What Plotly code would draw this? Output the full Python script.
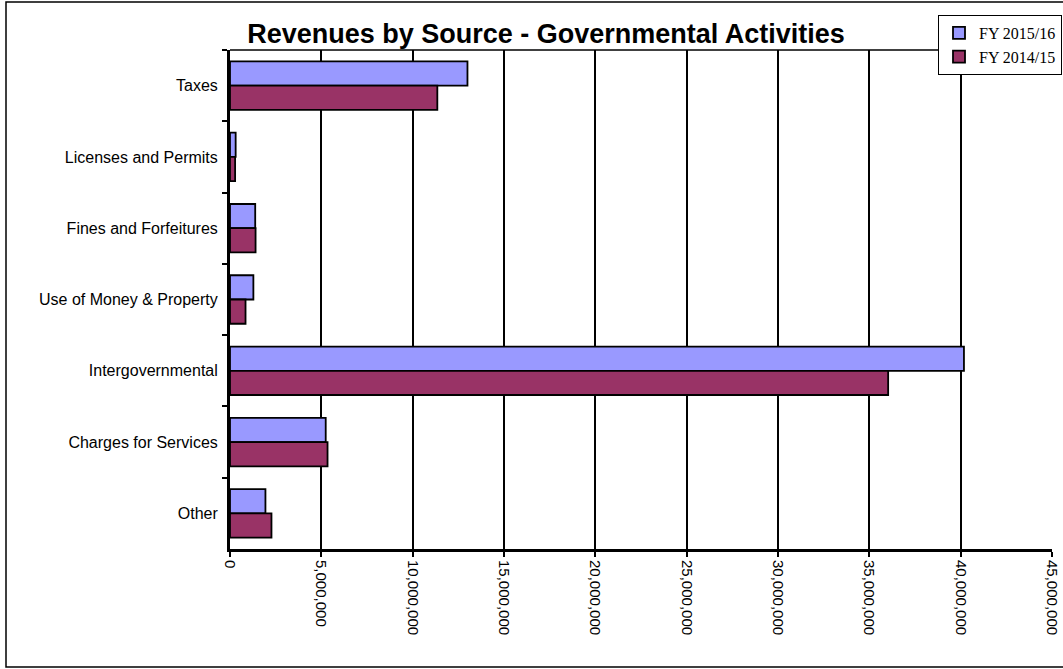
import plotly.graph_objects as go

categories = ["Taxes", "Licenses and Permits", "Fines and Forfeitures",
              "Use of Money & Property", "Intergovernmental",
              "Charges for Services", "Other"]
fy_2015_16 = [13000000, 310000, 1380000, 1280000, 40180000, 5240000, 1940000]
fy_2014_15 = [11350000, 280000, 1400000, 850000, 36030000, 5340000, 2270000]
series_names = ["FY 2015/16", "FY 2014/15"]
x_tick_values = [0, 5000000, 10000000, 15000000, 20000000, 25000000,
                 30000000, 35000000, 40000000, 45000000]
x_tick_labels = ["0", "5,000,000", "10,000,000", "15,000,000", "20,000,000",
                 "25,000,000", "30,000,000", "35,000,000", "40,000,000",
                 "45,000,000"]

fig = go.Figure()
fig.add_trace(go.Bar(y=categories, x=fy_2015_16, orientation="h",
                     name=series_names[0],
                     marker=dict(color="#9999FF", line=dict(color="black", width=1.8))))
fig.add_trace(go.Bar(y=categories, x=fy_2014_15, orientation="h",
                     name=series_names[1],
                     marker=dict(color="#993366", line=dict(color="black", width=1.8))))

W, H = 1063, 669
L, R, T, B = 230, 11, 50, 120
pw, ph = W - L - R, H - T - B

def px_x(px):
    return (px - L) / pw

def px_y(py):
    return (H - B - py) / ph

fig.update_layout(
    width=W, height=H,
    margin=dict(l=L, r=R, t=T, b=B, autoexpand=False),
    paper_bgcolor="white", plot_bgcolor="white",
    barmode="group", bargap=0.32, bargroupgap=0,
    font=dict(family="Liberation Sans, Arial", color="black"),
    title=dict(text="<b>Revenues by Source - Governmental Activities</b>",
               font=dict(family="Liberation Sans, Arial", size=27, color="black"),
               x=546 / W, xanchor="center", xref="container",
               y=1 - 34 / H, yanchor="middle", yref="container"),
    legend=dict(x=px_x(1062), xanchor="right", y=px_y(15), yanchor="top",
                bgcolor="white", bordercolor="black", borderwidth=1,
                font=dict(family="Liberation Serif, Times New Roman", size=16, color="black"),
                traceorder="normal", tracegroupgap=0),
    showlegend=True,
)

fig.update_xaxes(range=[0, 45000000], tickvals=x_tick_values, ticktext=x_tick_labels,
                 tickangle=90, tickfont=dict(size=15, color="black"),
                 showgrid=True, gridcolor="black", gridwidth=1.5,
                 showline=True, linecolor="black", linewidth=3,
                 ticks="outside", ticklen=5, tickcolor="black", tickwidth=1.5,
                 zeroline=False, fixedrange=True)
fig.update_yaxes(autorange="reversed", type="category",
                 tickfont=dict(size=16, color="black"),
                 showline=True, linecolor="black", linewidth=3,
                 ticks="outside", ticklen=5, tickcolor="black", tickwidth=2,
                 tickson="boundaries", showgrid=False, zeroline=False,
                 ticklabelstandoff=6, fixedrange=True)

# plot-area top border
fig.add_shape(type="line", xref="paper", yref="paper", x0=0, x1=1, y0=1, y1=1,
              line=dict(color="black", width=1.5))
# outer chart border
fig.add_shape(type="rect", xref="paper", yref="paper",
              x0=px_x(6), x1=px_x(1080), y0=px_y(667), y1=px_y(2),
              line=dict(color="black", width=1.5), fillcolor="rgba(0,0,0,0)",
              layer="below")

fig.write_html("out.html")
